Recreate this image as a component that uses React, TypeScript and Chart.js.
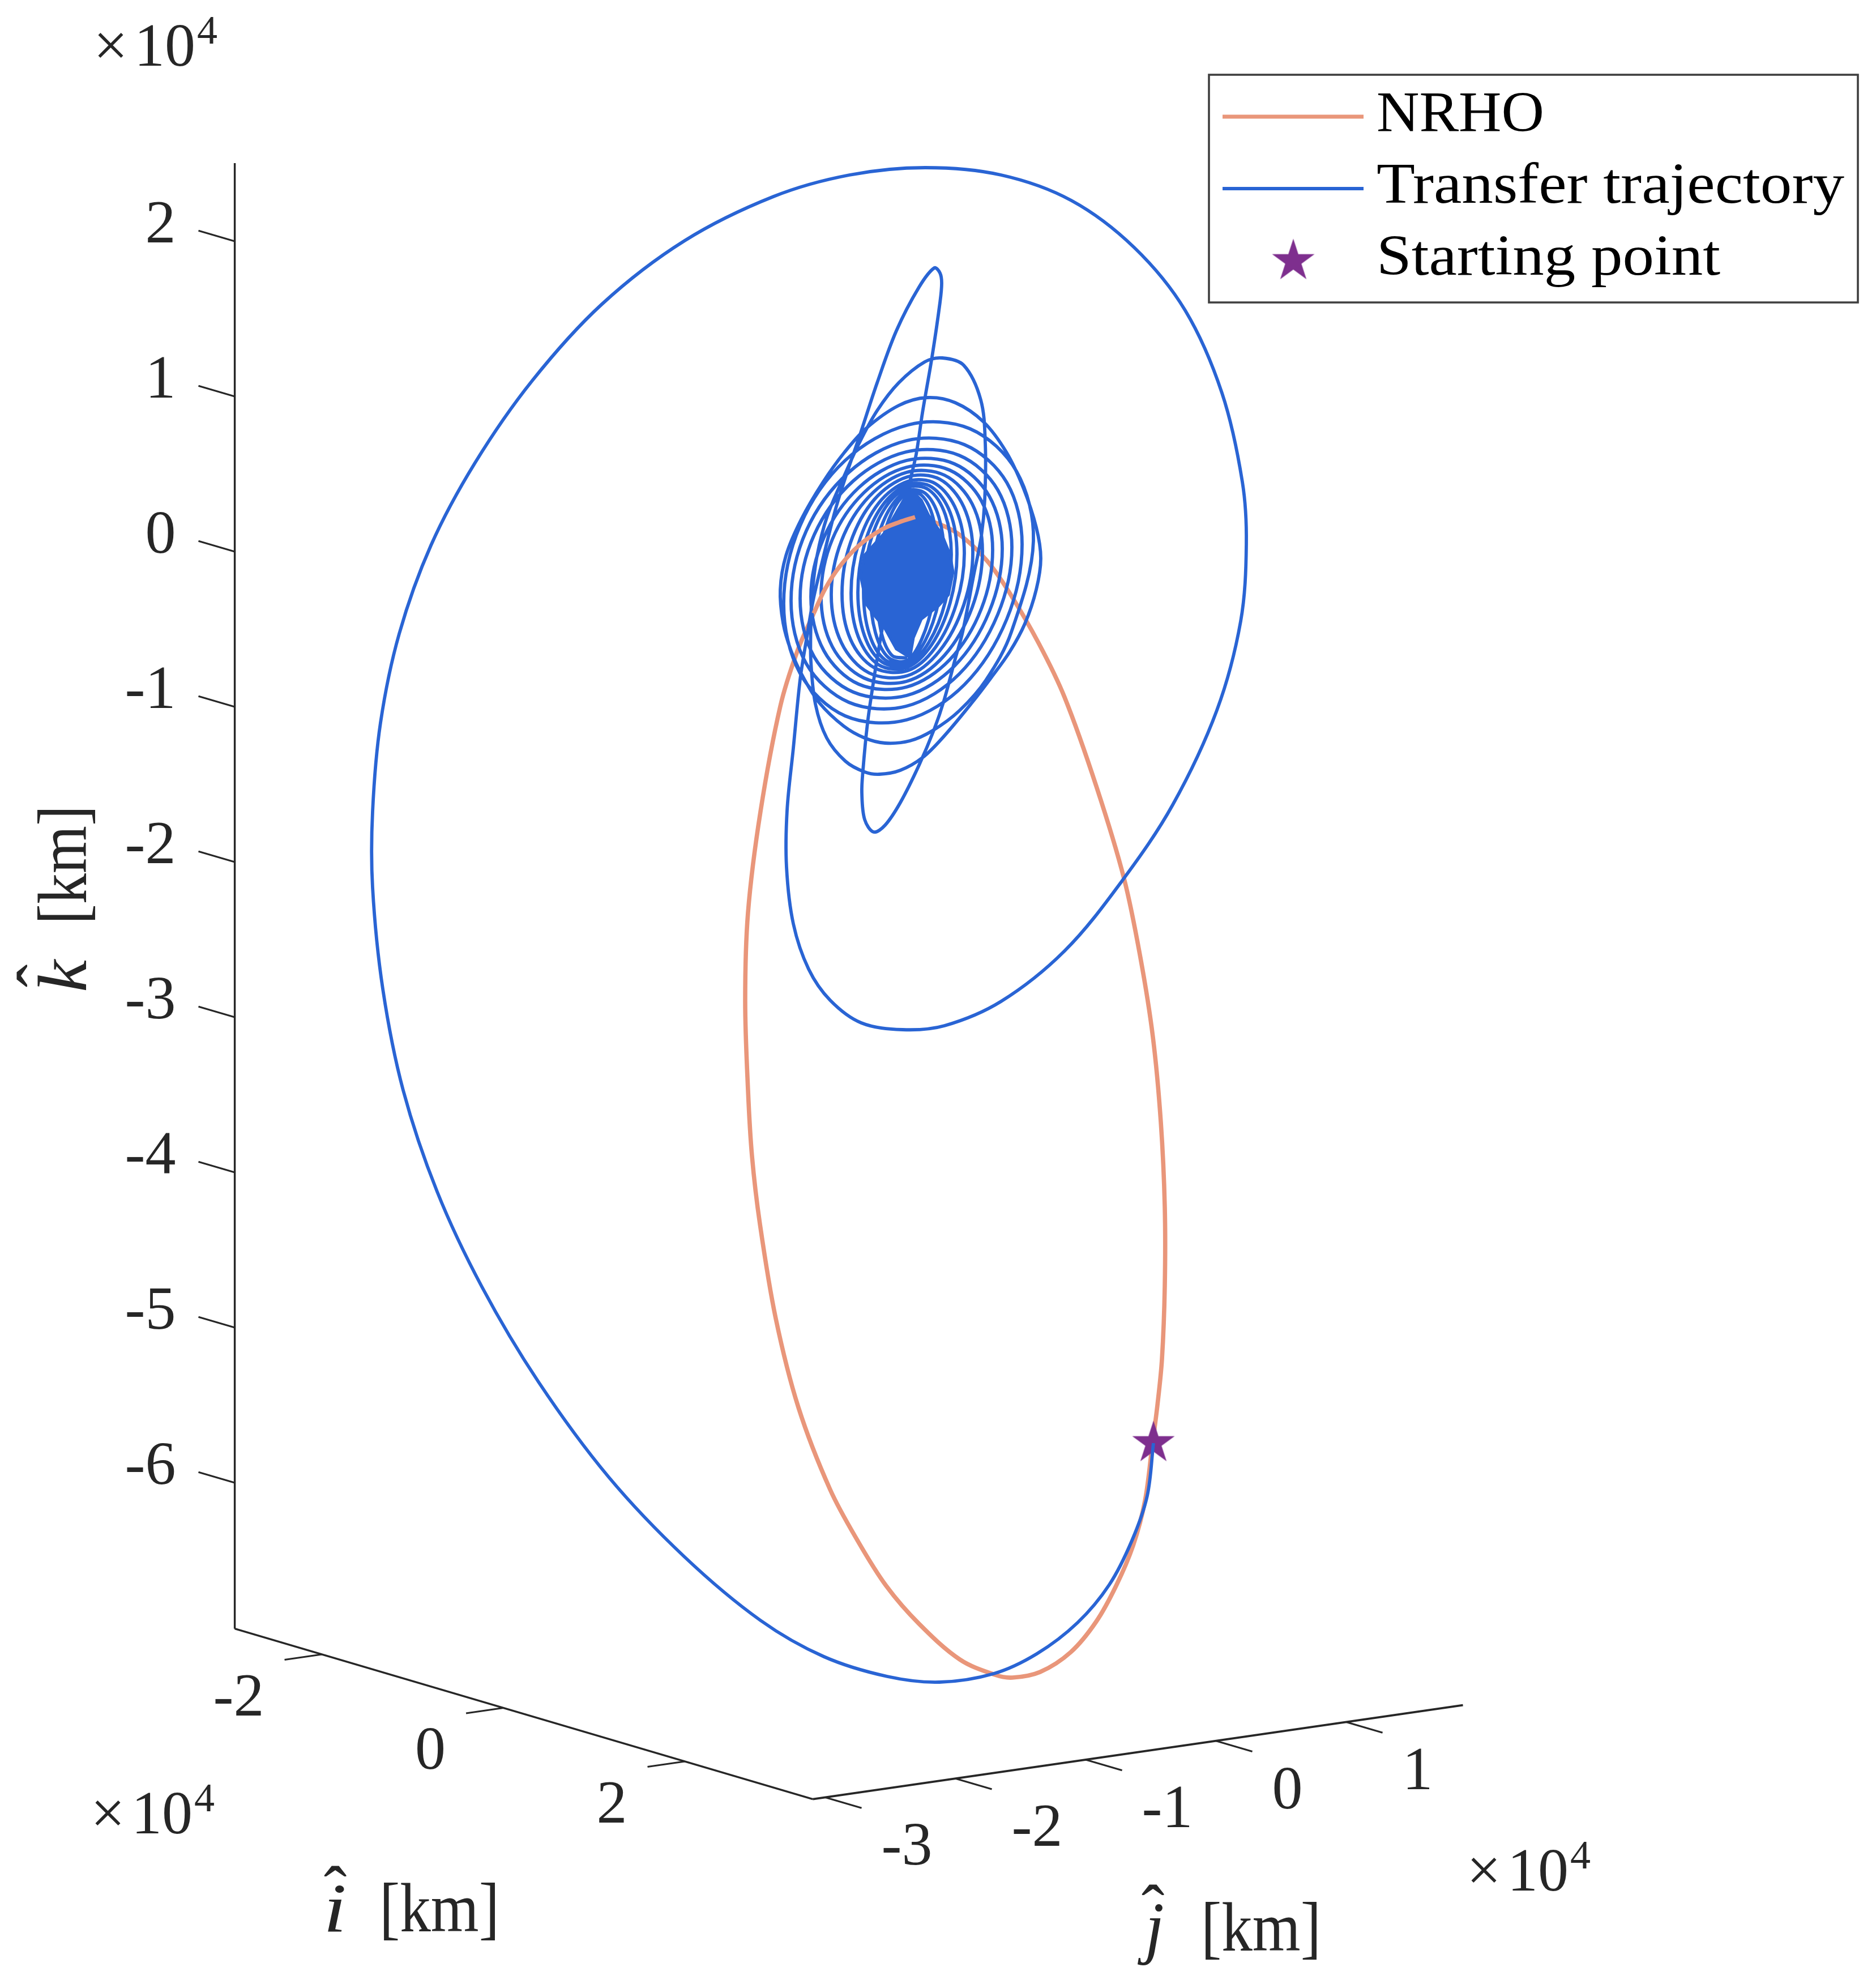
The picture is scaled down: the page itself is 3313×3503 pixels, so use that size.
import React, { useEffect, useRef } from "react";
import { Chart, registerables } from "chart.js";

Chart.register(...registerables);

type P = [number, number];

const startPoint: P[] = [[43.6, -153.7]];

const nrhoLeftArc: P[] = [
  [1.5, 9.8], [-1.3, 8.9], [-4.4, 7.6], [-8.4, 4.8], [-11.8, 1.1], [-14.4, -2.9], [-16.4, -7.2],
];
const nrhoRest: P[] = [
  [-16.4, -7.2], [-19.3, -13.9], [-22.3, -23.6], [-25.8, -42.2], [-28, -60], [-28.5, -75.7], [-28, -91.4],
  [-27.3, -103], [-25.9, -115], [-23.1, -131.7], [-19.1, -147.4], [-13.5, -161.9], [-8.6, -171], [-3.6, -178.9], [2.2, -185.6],
  [9.4, -191.9], [15.6, -194.6], [18.7, -195.1], [23.6, -194.1], [29, -190.6], [33.5, -185.2], [37, -178.9],
  [40, -171.8], [42.1, -163.9], [43.4, -154], [44.3, -147], [45.1, -138.9], [45.6, -126], [45.6, -112], [44.9, -97], [43.5, -82], [41.3, -68],
  [38.4, -54], [33.5, -37.7], [27.9, -22], [23.4, -12.6], [18.2, -3.6], [14.2, 2.1], [9.2, 6.8], [4.4, 9.1],
  [1.5, 9.8],
];

const departureArc: P[] = [
  [43.6, -153.7], [42.5, -163], [39.8, -170.9], [35.8, -178.7], [30.2, -185.4], [23, -190.9], [15.4, -194.4],
  [5.8, -195.9], [-3.4, -194.9], [-14.6, -191.4], [-25.8, -185], [-39.2, -173.8], [-52.6, -159.7],
  [-65, -142.9], [-75, -126.1], [-82.9, -109.3], [-88.9, -91.4], [-92.5, -73.5], [-94.3, -55.6], [-94.3, -42.2],
  [-92.9, -26.5], [-89.6, -10.8], [-84, 4.8], [-76.2, 19.4], [-66.1, 33.9], [-53.8, 47.4], [-39.2, 58.6],
  [-23.5, 66.4], [-10.1, 70.2], [3.3, 71.5], [16.7, 70.2], [29.1, 65.7], [40.2, 57.4], [49.2, 46.3], [55.7, 31.7],
  [59.3, 16], [60, 5], [59, -8.6], [54.8, -24.3], [47, -41], [38, -54.5], [27.9, -66.8], [16.7, -75.7],
  [6.7, -80], [-0.7, -80.7], [-8, -79.5], [-13.5, -75.5], [-17.3, -70], [-20, -62], [-21.2, -52], [-21.1, -42],
  [-20, -31],
];
const tallLoop: P[] = [
  [-18.8, -18.9], [-17.7, -11.9], [-16.5, -4.9], [-15.1, 1.1], [-12.6, 11], [-10.6, 17.4], [-8.3, 24.1],
  [-5.2, 33.5], [-1.8, 42.7], [2.2, 50.4], [4.9, 53.8], [5.9, 52.9], [6.2, 51.1], [5.9, 47.7], [4.5, 38.1],
  [2.8, 28.2], [1.7, 20.9], [0.5, 15.6], [-2, 2],
];
const narrowLoop: P[] = [
  [-4.3, -9.9], [-5.1, -14.6], [-5.9, -19.6], [-6.9, -26.6], [-7.7, -34.9], [-7.9, -38.9], [-7.4, -43.6],
  [-5.8, -45.8], [-3.8, -44.6], [-1.1, -40.6], [2.2, -34], [4.9, -27.6], [6.6, -22.6], [8.6, -15.2], [9.9, -10.5],
  [11.9, -0.2], [13.2, 6.4], [13.8, 12.8], [13.9, 22.8], [13.1, 30.5], [10.1, 36.6], [6.3, 37.9], [3.2, 37.2],
  [-1.4, 33.5], [-5.2, 28.6], [-8.3, 23], [-11, 17.1], [-14, 10], [-15.8, 3], [-16.7, -4], [-16.9, -8.9],
  [-16.9, -15.6], [-16.1, -23.2], [-14.1, -29.2], [-10.8, -33.3], [-7.4, -35.2], [-4.8, -35.6],
];
const outerLoop: P[] = [
  [-1.1, -34.9], [2.9, -32.6], [6.6, -28.9], [11.6, -22.9], [14.9, -18.6], [18.2, -14], [20.9, -9], [22.9, -3],
  [23.7, 2.5], [22.9, 8], [20.6, 15], [17.6, 21.3], [13.6, 26.6], [8.6, 30], [3.6, 30.9], [-1.4, 29.5],
  [-7.1, 25.5], [-11, 21.2], [-14.8, 15.9], [-18.6, 9.4], [-21.3, 3], [-22.3, -3], [-21.8, -8.9], [-20.4, -13.8],
  [-18.3, -18.4], [-15.4, -23], [-11.1, -27.1], [-7.4, -29.2], [-3.8, -30.1], [0.6, -29.7], [4.6, -27.9],
  [9.3, -24.4], [14, -19], [18.5, -10.5],
];
const spiralA: P[] = [
  [22.4, 5.6], [19.4, 17.9], [11.2, 25.4], [0.35, 26.1], [-10.85, 19.8], [-18.8, 8.3], [-21.7, -5.5], [-18.8, -17.8], [-10.85, -25.3],
  [0, -26], [10.2, -19.8], [17.7, -8.2], [20.4, 5], [17.7, 15.9], [10.2, 22.6], [0, 23.3], [-10.2, 17.7], [-17.7, 7.4], [-20.4, -5], [-17.7, -16.1], [-10.2, -22.9],
  [-0.1, -23.6], [9.3, -17.9], [16.1, -7.4], [18.6, 4.5], [16.1, 14.6], [9.3, 20.7], [-0.1, 21.3], [-9.4, 16.2], [-16.3, 6.7], [-18.8, -4.6], [-16.3, -14.9], [-9.4, -21.1],
];
const spiralB: P[] = [
  [0, -21.7], [8.45, -16.5], [14.6, -6.9], [16.9, 4.2], [14.6, 13.5], [8.45, 19.2], [0, 19.8], [-8.45, 15], [-14.6, 6.2], [-16.9, -4.3], [-14.6, -13.8], [-8.45, -19.7],
  [0, -20.2], [7.6, -15.4], [13.2, -6.4], [15.2, 4], [13.2, 12.7], [7.6, 18.1], [0, 18.6], [-7.55, 14.1], [-13.1, 5.9], [-15.1, -4.1], [-13.1, -13.1], [-7.55, -18.6],
  [0, -19.2], [6.7, -14.6], [11.6, -6.1], [13.4, 3.8], [11.6, 12.1], [6.7, 17.2], [0, 17.7], [-6.65, 13.4], [-11.5, 5.6], [-13.3, -3.9], [-11.5, -12.4], [-6.65, -17.7],
];
const spiralC: P[] = [
  [0.15, -18.2], [5.85, -13.8], [10.1, -5.7], [11.7, 3.6], [10.1, 11.6], [5.85, 16.5], [0.15, 16.9], [-5.7, 12.9], [-9.9, 5.3], [-11.4, -3.7], [-9.9, -11.8], [-5.7, -16.8],
  [0.2, -17.3], [5.1, -13.2], [8.8, -5.5], [10.2, 3.4], [8.8, 11], [5.1, 15.7], [0.2, 16.1], [-4.9, 12.3], [-8.5, 5.1], [-9.8, -3.6], [-8.5, -11.4], [-4.9, -16.3],
  [0.15, -16.7], [4.45, -12.7], [7.7, -5.3], [8.9, 3.3], [7.7, 10.6], [4.45, 15.1], [0.15, 15.5], [-4.3, 11.8], [-7.45, 4.9], [-8.6, -3.5], [-7.45, -11.1], [-4.3, -15.8],
];
const spiralD: P[] = [
  [0.15, -16.2], [3.95, -12.3], [6.85, -5.1], [7.9, 3.2], [6.85, 10.2], [3.95, 14.6], [0.15, 15], [-3.8, 11.4], [-6.6, 4.7], [-7.6, -3.4], [-6.6, -10.8], [-3.8, -15.4],
  [0.1, -15.8], [3.3, -12], [5.7, -5], [6.6, 3.1], [5.7, 9.8], [3.3, 14], [0.1, 14.4], [-3.2, 10.9], [-5.5, 4.5], [-6.4, -3.3], [-5.5, -10.6], [-3.2, -15],
  [0.1, -15.5], [2.7, -11.7], [4.7, -4.9], [5.4, 3], [4.7, 9.6], [2.7, 13.6], [0.1, 14], [-2.6, 10.6], [-4.5, 4.4], [-5.2, -3.2], [-4.5, -10.4], [-2.6, -14.6], [0.1, -15.1],
];
const coreOutline: P[] = [
  [0.6, 14.8], [-3.8, 7.1], [-7.4, 3.1], [-8.1, -0.6], [-7.1, -5.6], [-5.4, -7.9], [-3.8, -9.9], [-1.8, -13.5],
  [0.6, -15], [1.2, -11.5], [2.6, -8.2], [5.6, -5.9], [7.4, -3.9], [8.2, 0.1], [7.7, 3.1], [6.2, 6.8], [3.9, 10.1],
  [2.6, 12.8], [0.6, 14.8],
];

const iTicks = [-2, 0, 2];
const jTicks = [-3, -2, -1, 0, 1];
const kTicks = [2, 1, 0, -1, -2, -3, -4, -5, -6];
const iRange = [-2.96, 3.41];
const jRange = [-3.096, 1.896];
const kRange = [-6.94, 2.504];

const legendLabels = ["NRHO", "Transfer trajectory", "Starting point"];

const ORANGE = "#E9967A";
const BLUE = "#2964D4";
const PURPLE = "#7E2F8E";
const INK = "#262626";
const SERIF = '"Liberation Serif"';

// View projection of the 3-D axes, in the same units as the series (values are x10^4 km).
const project = (i: number, j: number, k: number): P => [
  16.025 * i + 23 * j,
  -4.725 * i + 3.325 * j + 27.4 * k,
];

const toXY = (pts: P[]) => pts.map(([x, y]) => ({ x, y }));

function makeStar(R: number, color: string) {
  const c = document.createElement("canvas");
  c.width = c.height = Math.ceil(R * 2 + 4);
  const g = c.getContext("2d")!;
  const m = c.width / 2;
  g.fillStyle = color;
  g.beginPath();
  for (let n = 0; n < 10; n++) {
    const r = n % 2 === 0 ? R : R * 0.382;
    const a = -Math.PI / 2 + (n * Math.PI) / 5;
    const px = m + r * Math.cos(a);
    const py = m + r * Math.sin(a);
    if (n === 0) g.moveTo(px, py);
    else g.lineTo(px, py);
  }
  g.closePath();
  g.fill();
  return c;
}

function text(
  ctx: CanvasRenderingContext2D,
  s: string,
  x: number,
  y: number,
  size: number,
  o: { color?: string; width?: number; align?: CanvasTextAlign; style?: string; rot?: number } = {}
) {
  ctx.save();
  ctx.font = `${o.style ?? ""} ${size}px ${SERIF}`;
  ctx.fillStyle = o.color ?? INK;
  ctx.textBaseline = "alphabetic";
  ctx.textAlign = o.align ?? "left";
  ctx.translate(x, y);
  if (o.rot) ctx.rotate(o.rot);
  if (o.width) ctx.scale(o.width / ctx.measureText(s).width, 1);
  ctx.fillText(s, 0, 0);
  ctx.restore();
}

function exponent(ctx: CanvasRenderingContext2D, x: number, y: number) {
  text(ctx, "\u00D7", x, y, 108);
  text(ctx, "10", x + 72, y, 108);
  text(ctx, "4", x + 183, y - 39, 72);
}

const axes3d = {
  id: "axes3d",
  afterDatasetsDraw(chart: any) {
    const { ctx, scales } = chart;
    const px = (p: P): P => [scales.x.getPixelForValue(p[0]), scales.y.getPixelForValue(p[1])];
    const seg = (a: P, b: P, w: number) => {
      ctx.save();
      ctx.strokeStyle = INK;
      ctx.lineWidth = w;
      ctx.lineCap = "butt";
      ctx.beginPath();
      ctx.moveTo(a[0], a[1]);
      ctx.lineTo(b[0], b[1]);
      ctx.stroke();
      ctx.restore();
    };
    const corner = px(project(iRange[0], jRange[0], kRange[0]));
    const cornerI = px(project(iRange[1], jRange[0], kRange[0]));
    seg(corner, px(project(iRange[0], jRange[0], kRange[1])), 3.4);
    seg(corner, cornerI, 3.6);
    seg(cornerI, px(project(iRange[1], jRange[1], kRange[0])), 3.6);

    for (const v of kTicks) {
      const a = px(project(iRange[0], jRange[0], v));
      const b = px(project(iRange[0] - 0.4, jRange[0], v));
      seg(a, b, 3.2);
      text(ctx, String(v), b[0] - 40, a[1] + 2, 108, { align: "right" });
    }
    for (const v of iTicks) {
      const a = px(project(v, jRange[0], kRange[0]));
      const b = px(project(v, jRange[0] - 0.2864, kRange[0]));
      seg(a, b, 3.2);
      text(ctx, String(v), b[0] - 36, b[1] + 98, 108, { align: "right" });
    }
    for (const v of jTicks) {
      const a = px(project(iRange[1], v, kRange[0]));
      const b = px(project(iRange[1] + 0.4, v, kRange[0]));
      seg(a, b, 3.2);
      text(ctx, String(v), b[0] + 35, b[1] + 100, 108);
    }

    exponent(ctx, 165, 116);
    exponent(ctx, 160, 3237);
    exponent(ctx, 2590, 3338);

    // i axis title
    text(ctx, "i", 571, 3410, 122, { style: "italic", width: 41 });
    text(ctx, "\u02C6", 592, 3380, 122, { align: "center" });
    text(ctx, "[km]", 670, 3410, 122, { width: 212 });
    // j axis title
    text(ctx, "j", 2022, 3444, 122, { style: "italic" });
    text(ctx, "\u02C6", 2036, 3413, 122, { align: "center" });
    text(ctx, "[km]", 2121, 3444, 122, { width: 212 });
    // k axis title
    text(ctx, "k", 152, 1752, 122, { style: "italic", rot: -Math.PI / 2, width: 57 });
    text(ctx, "\u02C6", 115, 1723, 122, { rot: -Math.PI / 2, align: "center" });
    text(ctx, "[km]", 152, 1632, 122, { rot: -Math.PI / 2, width: 210 });

    // legend
    ctx.save();
    ctx.fillStyle = "#ffffff";
    ctx.fillRect(2135, 132, 3281 - 2135, 534 - 132);
    ctx.strokeStyle = "#404040";
    ctx.lineWidth = 3.6;
    ctx.strokeRect(2135, 132, 3281 - 2135, 534 - 132);
    ctx.lineWidth = 7;
    ctx.strokeStyle = ORANGE;
    ctx.beginPath();
    ctx.moveTo(2159, 206);
    ctx.lineTo(2408, 206);
    ctx.stroke();
    ctx.lineWidth = 6;
    ctx.strokeStyle = BLUE;
    ctx.beginPath();
    ctx.moveTo(2159, 333);
    ctx.lineTo(2408, 333);
    ctx.stroke();
    const s = makeStar(39.4, PURPLE);
    ctx.drawImage(s, 2284 - s.width / 2, 461 - s.height / 2);
    ctx.restore();
    text(ctx, legendLabels[0], 2431, 232, 102, { color: "#000", width: 296 });
    text(ctx, legendLabels[1], 2431, 358, 102, { color: "#000", width: 826 });
    text(ctx, legendLabels[2], 2431, 485, 102, { color: "#000", width: 607 });
  },
};

export default function App() {
  const ref = useRef<HTMLCanvasElement>(null);
  useEffect(() => {
    const transfer = [
      ...departureArc, ...tallLoop, ...narrowLoop, ...outerLoop, ...spiralA, ...spiralB, ...spiralC, ...spiralD,
    ];
    const line = { showLine: true, pointRadius: 0, borderJoinStyle: "round" as const };
    const chart = new Chart(ref.current!, {
      type: "scatter",
      data: {
        datasets: [
          { ...line, label: "NRHO", data: toXY(nrhoLeftArc), borderColor: ORANGE, borderWidth: 7.6, tension: 0.34, order: 0 },
          { ...line, label: "core", data: toXY(coreOutline), borderColor: BLUE, backgroundColor: BLUE, borderWidth: 5, tension: 0, fill: "shape", order: 1 },
          { ...line, label: "Transfer trajectory", data: toXY(transfer), borderColor: BLUE, borderWidth: 5.8, tension: 0.34, order: 2 },
          { label: "Starting point", data: toXY(startPoint), pointStyle: makeStar(39.4, PURPLE), pointRadius: 40, order: 3 },
          { ...line, label: "NRHO orbit", data: toXY(nrhoRest), borderColor: ORANGE, borderWidth: 7.6, tension: 0.34, order: 4 },
        ],
      },
      options: {
        animation: false,
        responsive: false,
        devicePixelRatio: 1,
        layout: { padding: 0, autoPadding: false },
        plugins: { legend: { display: false }, tooltip: { enabled: false } },
        scales: {
          x: { type: "linear", display: false, min: -160.1, max: 171.2 },
          y: { type: "linear", display: false, min: -249.2, max: 101.1 },
        },
      },
      plugins: [axes3d],
    });
    return () => chart.destroy();
  }, []);
  return (
    <div style={{ position: "absolute", left: 0, top: 0, width: 3313, height: 3503, background: "#fff" }}>
      <canvas ref={ref} width={3313} height={3503} style={{ display: "block", width: 3313, height: 3503 }} />
    </div>
  );
}
